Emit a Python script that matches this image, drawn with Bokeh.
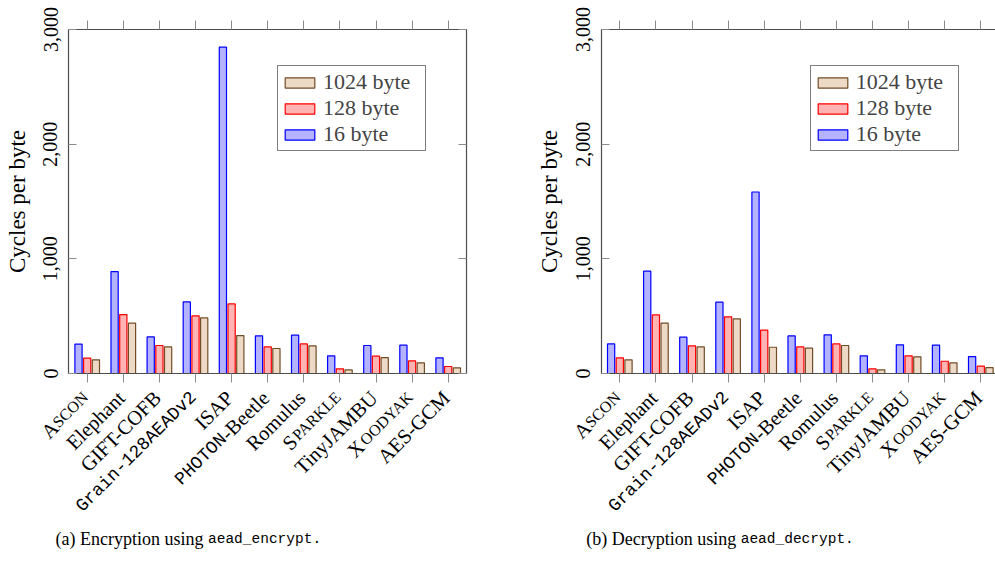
import math
from bokeh.plotting import figure
from bokeh.models import (Range1d, FixedTicker, NumeralTickFormatter, LinearAxis,
                          Legend, LegendItem, Label, ColumnDataSource, CustomJSTickFormatter)
from bokeh.layouts import row
from bokeh.transform import dodge
from bokeh.embed import file_html
from bokeh.resources import INLINE

# ---------------- data ----------------
categories = ["Ascon", "Elephant", "GIFT-COFB", "Grain-128AEADv2", "ISAP",
              "PHOTON-Beetle", "Romulus", "Sparkle", "TinyJAMBU", "Xoodyak", "AES-GCM"]
series_labels = ["16 byte", "128 byte", "1024 byte"]

enc_16 = [256, 889, 319, 624, 2846, 328, 334, 154, 244, 247, 137]
enc_128 = [134, 514, 244, 502, 607, 232, 258, 41, 151, 110, 61]
enc_1024 = [119, 439, 232, 485, 331, 218, 241, 32, 139, 93, 49]

dec_16 = [258, 892, 317, 622, 1583, 328, 337, 154, 250, 247, 148]
dec_128 = [137, 511, 241, 494, 378, 232, 258, 41, 154, 107, 64]
dec_1024 = [119, 439, 232, 476, 229, 221, 244, 32, 145, 93, 52]

y_ticks = [0, 1000, 2000, 3000]
y_label = "Cycles per byte"
captions = [("(a) Encryption using ", "aead_encrypt."),
            ("(b) Decryption using ", "aead_decrypt.")]

# typography of the scheme names
small_caps = ["Ascon", "Sparkle", "Xoodyak"]
typewriter = {"Grain-128AEADv2": "Grain-128AEADv2", "PHOTON-Beetle": "PHOTON"}

# ---------------- style / layout ----------------
SERIF = "Liberation Serif"
MONO = "Liberation Mono"
FILL = ["#b3b3ff", "#ffb3b3", "#ecd9c6"]
EDGE = ["#0000ff", "#ff0000", "#734d26"]
OFFS = [-0.241, 0.0, 0.241]
BAR_W = 0.2
FRAME_C = "#4d4d4d"
TICK_C = "#8c8c8c"

SZ, SC_SZ, TT_SZ = 20.5, 16, 18
H = 573
CHART_TOP, CHART_BOTTOM = 29, 373          # canvas px of y = 3000 and y = 0
PX_PER_CAT = 36.1
PX_PER_UNIT = (CHART_BOTTOM - CHART_TOP) / (y_ticks[-1] - y_ticks[0])

TIMES_W = {"S": .556, "C": .667, "O": .722, "N": .722, "P": .556, "A": .722,
           "R": .667, "K": .722, "L": .611, "E": .611, "D": .722, "Y": .722,
           "-": .333, "B": .667, "e": .444, "t": .278, "l": .278}

EMPTY = CustomJSTickFormatter(code="return ''")


def piece_width(text, font, size):
    if font == MONO:
        return 0.6 * size * len(text)
    return sum(TIMES_W.get(c, 0.5) for c in text) * size


def label_pieces(name):
    if name in small_caps:
        return [(name[0], SERIF, SZ), (name[1:].upper(), SERIF, SC_SZ)]
    if name in typewriter:
        pre = typewriter[name]
        out = [(pre, MONO, TT_SZ)]
        rest = name[len(pre):]
        if rest:
            out.append((rest, SERIF, SZ))
        return out
    return [(name, SERIF, SZ)]


def add_tick_labels(p):
    ax, ay = -2.0, -21.0
    c = math.cos(math.pi / 4)
    for i, name in enumerate(categories):
        pieces = label_pieces(name)
        for k, (t, f, s) in enumerate(pieces):
            after = sum(piece_width(tt, ff, ss) for tt, ff, ss in pieces[k + 1:])
            p.add_layout(Label(x=i, y=0, text=t, text_font=f, text_font_size="%gpx" % s,
                               x_offset=ax - after * c, y_offset=ay - after * c,
                               angle=math.pi / 4, text_align="right",
                               text_baseline="middle", text_color="black"))


def make_panel(v16, v128, v1024, caption, width, chart_left, chart_right, tick0):
    xs = -tick0 / PX_PER_CAT
    xe = xs + width / PX_PER_CAT
    ys = -(H - CHART_BOTTOM) / PX_PER_UNIT
    ye = CHART_BOTTOM / PX_PER_UNIT

    def X(px):
        return xs + px / PX_PER_CAT

    def Y(py):
        return (CHART_BOTTOM - py) / PX_PER_UNIT

    p = figure(width=width, height=H, x_range=Range1d(xs, xe), y_range=Range1d(ys, ye),
               output_backend="svg", toolbar_location=None, min_border=0,
               background_fill_color="white", border_fill_color="white")
    p.xgrid.grid_line_color = None
    p.ygrid.grid_line_color = None
    p.outline_line_color = None

    xl = X(chart_left)
    xr = X(chart_right) if chart_right is not None else xe

    src = ColumnDataSource(dict(idx=list(range(len(categories))),
                                v16=v16, v128=v128, v1024=v1024))
    rends = []
    for k, col in enumerate(["v16", "v128", "v1024"]):
        r = p.vbar(x=dodge("idx", OFFS[k]), top=col, width=BAR_W, bottom=0,
                   source=src, fill_color=FILL[k], line_color=EDGE[k], line_width=1.2)
        rends.append(r)

    # y axis (left)
    ya = p.yaxis[0]
    ya.fixed_location = xl
    ya.bounds = (y_ticks[0], y_ticks[-1])
    ya.ticker = FixedTicker(ticks=y_ticks)
    ya.formatter = NumeralTickFormatter(format="0,0")
    ya.major_label_orientation = "vertical"
    ya.major_tick_in = 8
    ya.major_tick_out = 0
    ya.minor_tick_line_color = None
    ya.major_tick_line_color = TICK_C
    ya.major_label_standoff = 11
    ya.major_label_text_font = SERIF
    ya.major_label_text_font_size = "20px"
    ya.major_label_text_color = "black"
    ya.axis_line_color = FRAME_C
    ya.axis_line_width = 1.2

    # x axis (below) -- ticks only, names drawn as labels
    cat_ticks = FixedTicker(ticks=list(range(len(categories))))
    xa = p.xaxis[0]
    xa.fixed_location = y_ticks[0]
    xa.bounds = (xl, xr)
    xa.ticker = cat_ticks
    xa.formatter = EMPTY
    xa.major_tick_out = 9
    xa.major_tick_in = 0
    xa.minor_tick_line_color = None
    xa.major_tick_line_color = TICK_C
    xa.axis_line_color = FRAME_C
    xa.axis_line_width = 1.2

    top_ax = LinearAxis(ticker=cat_ticks, formatter=EMPTY, fixed_location=y_ticks[-1],
                        bounds=(xl, xr),
                        major_tick_out=9, major_tick_in=0, minor_tick_line_color=None,
                        major_tick_line_color=TICK_C,
                        axis_line_color=FRAME_C, axis_line_width=1.2)
    p.add_layout(top_ax, "above")
    if chart_right is not None:
        right_ax = LinearAxis(ticker=FixedTicker(ticks=y_ticks), formatter=EMPTY,
                              fixed_location=xr, bounds=(y_ticks[0], y_ticks[-1]),
                              major_tick_out=0, major_tick_in=8, minor_tick_line_color=None,
                              major_tick_line_color=TICK_C, axis_line_color=FRAME_C,
                              axis_line_width=1.2)
        p.add_layout(right_ax, "right")

    add_tick_labels(p)

    # y axis title
    p.add_layout(Label(x=X(chart_left - 51.5), y=(y_ticks[0] + y_ticks[-1]) / 2,
                       text=y_label, angle=math.pi / 2, text_align="center",
                       text_baseline="middle", text_font=SERIF, text_font_size="23px",
                       text_color="black"))

    # legend (bottom-left corner, pixels from the canvas' bottom-left)
    legend = Legend(items=[LegendItem(label=series_labels[2], renderers=[rends[2]]),
                           LegendItem(label=series_labels[1], renderers=[rends[1]]),
                           LegendItem(label=series_labels[0], renderers=[rends[0]])],
                    location=(chart_left + 209, H - 151), padding=3, spacing=0, margin=0,
                    glyph_width=37, glyph_height=13, label_standoff=5,
                    label_width=99, label_height=20,
                    label_text_font=SERIF, label_text_font_size="22px",
                    border_line_color="black", border_line_width=1,
                    background_fill_color="white", background_fill_alpha=1)
    p.add_layout(legend)

    # caption
    split_x = X(chart_left + 139.5)
    cap_y = Y(538)
    p.add_layout(Label(x=split_x, y=cap_y,
                       text=caption[0], text_align="right", text_baseline="middle",
                       text_font=SERIF, text_font_size="18px", text_color="black"))
    p.add_layout(Label(x=split_x, y=cap_y,
                       text=caption[1], text_align="left", text_baseline="middle",
                       text_font=MONO, text_font_size="14.5px", text_color="black"))
    return p


p1 = make_panel(enc_16, enc_128, enc_1024, captions[0], 500, 68, 466, 86.7)
p2 = make_panel(dec_16, dec_128, dec_1024, captions[1], 495, 100.7, None, 119.3)

layout = row(p1, p2)
open("out.html", "w").write(file_html(layout, INLINE))
